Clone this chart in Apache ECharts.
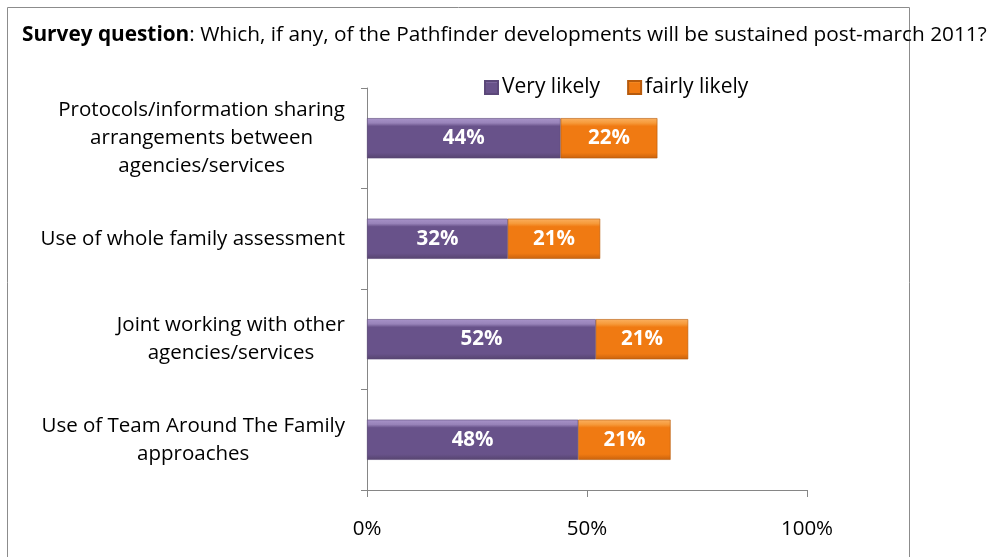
<!DOCTYPE html>
<html>
<head>
<meta charset="utf-8">
<script src="https://cdn.jsdelivr.net/npm/echarts@6/dist/echarts.min.js"></script>
<style>
  html, body { margin: 0; padding: 0; background: #fff; }
  #chart { width: 993px; height: 557px; }
</style>
</head>
<body>
<div id="chart"></div>
<script>
// Survey results: share of respondents rating each development as likely to be sustained
const categories = [
  'Protocols/information sharing\narrangements between\nagencies/services',
  'Use of whole family assessment',
  'Joint working with other\nagencies/services',
  'Use of Team Around The Family\napproaches'
];
const seriesNames = ['Very likely', 'fairly likely'];
const veryLikely = [44, 32, 52, 48];
const fairlyLikely = [22, 21, 21, 21];
const xTicks = [0, 50, 100];

const FONT = '"Open Sans", "Noto Sans", sans-serif';
const FS = 20.5;

function grad(top, hi, base, bottom) {
  return new echarts.graphic.LinearGradient(0, 0, 0, 1, [
    { offset: 0, color: top },
    { offset: 0.12, color: hi },
    { offset: 0.2, color: base },
    { offset: 0.86, color: base },
    { offset: 1, color: bottom }
  ]);
}

const purpleFill = grad('#a893c9', '#9883b9', '#68528a', '#56446f');
const orangeFill = grad('#fbb060', '#f69a3a', '#f07a12', '#c9620c');

const chart = echarts.init(document.getElementById('chart'), null, { renderer: 'canvas' });

const valueLabel = {
  show: true,
  position: 'inside',
  formatter: p => p.value + '%',
  fontFamily: FONT,
  fontSize: FS,
  fontWeight: 'bold',
  color: '#fff'
};

chart.setOption({
  animation: false,
  title: {
    text: '{b|Survey question}{n|: Which, if any, of the Pathfinder developments will be sustained post-march 2011?}',
    left: 17,
    top: 20,
    textStyle: {
      fontWeight: 'normal',
      rich: {
        b: { fontFamily: FONT, fontSize: 20.8, fontWeight: 'bold', color: '#000' },
        n: { fontFamily: FONT, fontSize: 20.8, fontWeight: 'normal', color: '#000' }
      }
    }
  },
  graphic: [{
    type: 'rect',
    shape: { x: 7.5, y: 7.5, width: 902, height: 560 },
    style: { fill: 'none', stroke: '#8c8c8c', lineWidth: 1 },
    z: -1
  }],
  legend: {
    data: seriesNames,
    top: 72,
    left: 479,
    itemWidth: 13,
    itemHeight: 13,
    itemGap: 27,
    icon: 'rect',
    textStyle: { fontFamily: FONT, fontSize: 21, color: '#000', padding: [0, 0, 0, -1] }
  },
  grid: { left: 367, right: 186, top: 88, bottom: 67 },
  xAxis: {
    type: 'value',
    min: 0,
    max: 100,
    interval: 50,
    axisLine: { show: true, lineStyle: { color: '#868686' } },
    axisTick: { show: true, length: 7, lineStyle: { color: '#868686' } },
    splitLine: { show: false },
    axisLabel: {
      margin: 29,
      fontFamily: FONT,
      fontSize: FS,
      color: '#000',
      formatter: v => (xTicks.indexOf(v) >= 0 ? v + '%' : '')
    }
  },
  yAxis: {
    type: 'category',
    inverse: true,
    data: categories,
    axisLine: { show: true, lineStyle: { color: '#868686' } },
    axisTick: { show: true, length: 6, lineStyle: { color: '#868686' } },
    axisLabel: {
      margin: 22,
      align: 'right',
      formatter: v => v.split('\n').map(l => '{c|' + l + '}').join('\n'),
      rich: {
        c: { align: 'center', fontFamily: FONT, fontSize: FS, lineHeight: 28, color: '#000' }
      }
    }
  },
  series: [
    {
      name: seriesNames[0],
      type: 'bar',
      stack: 'total',
      barWidth: '40%',
      data: veryLikely,
      itemStyle: { color: purpleFill, borderColor: '#5b4879', borderWidth: 0.6 },
      label: valueLabel
    },
    {
      name: seriesNames[1],
      type: 'bar',
      stack: 'total',
      barWidth: '40%',
      data: fairlyLikely,
      itemStyle: { color: orangeFill, borderColor: '#b65a0c', borderWidth: 0.6 },
      label: valueLabel
    }
  ]
});
</script>
</body>
</html>
